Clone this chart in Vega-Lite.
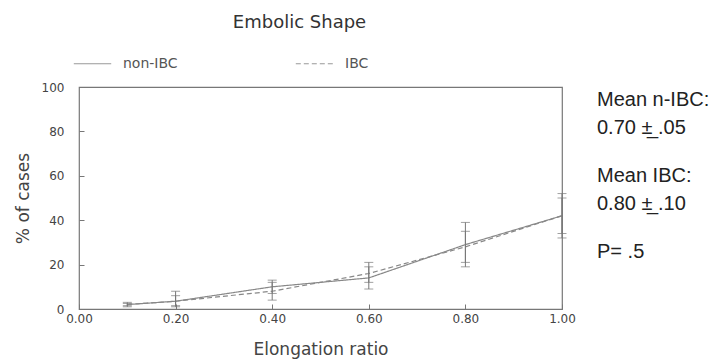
{
  "$schema": "https://vega.github.io/schema/vega-lite/v6.json",
  "width": 483,
  "height": 222,
  "autosize": {"type": "none"},
  "padding": {"left": 79, "top": 87, "right": 156, "bottom": 53},
  "background": "white",
  "title": {
    "text": "Embolic Shape",
    "anchor": "middle",
    "frame": "group",
    "dx": -21,
    "offset": 12,
    "font": "DejaVu Sans",
    "fontSize": 18,
    "fontWeight": "normal",
    "color": "#333"
  },
  "data": {
    "values": [
      {"ratio": 0.1, "group": "non-IBC", "pct": 2, "lo": 1, "hi": 3},
      {"ratio": 0.2, "group": "non-IBC", "pct": 3.5, "lo": 1, "hi": 8},
      {"ratio": 0.4, "group": "non-IBC", "pct": 10, "lo": 7, "hi": 13},
      {"ratio": 0.6, "group": "non-IBC", "pct": 14, "lo": 9, "hi": 21},
      {"ratio": 0.8, "group": "non-IBC", "pct": 29, "lo": 19, "hi": 39},
      {"ratio": 1.0, "group": "non-IBC", "pct": 42, "lo": 32, "hi": 52},
      {"ratio": 0.1, "group": "IBC", "pct": 2, "lo": 1.5, "hi": 2.5},
      {"ratio": 0.2, "group": "IBC", "pct": 3.5, "lo": 1.5, "hi": 6},
      {"ratio": 0.4, "group": "IBC", "pct": 8, "lo": 4, "hi": 12},
      {"ratio": 0.6, "group": "IBC", "pct": 16, "lo": 12, "hi": 19},
      {"ratio": 0.8, "group": "IBC", "pct": 28, "lo": 21, "hi": 35},
      {"ratio": 1.0, "group": "IBC", "pct": 42, "lo": 34, "hi": 50}
    ]
  },
  "layer": [
    {
      "mark": {"type": "line", "color": "#888", "strokeWidth": 1.2},
      "encoding": {
        "x": {"field": "ratio", "type": "quantitative"},
        "y": {"field": "pct", "type": "quantitative"},
        "strokeDash": {
          "field": "group",
          "type": "nominal",
          "scale": {"domain": ["non-IBC", "IBC"], "range": [[1, 0], [5, 3]]},
          "legend": {
            "title": null,
            "orient": "none",
            "legendX": -6,
            "legendY": -43,
            "direction": "horizontal",
            "symbolType": "stroke",
            "symbolStrokeColor": "#999",
            "symbolStrokeWidth": 1.2,
            "symbolSize": 1400,
            "labelFont": "DejaVu Sans",
            "labelFontSize": 14,
            "labelColor": "#555",
            "labelOffset": 11,
            "columnPadding": 115
          }
        }
      }
    },
    {
      "mark": {"type": "rule", "color": "#777", "strokeWidth": 1},
      "encoding": {
        "x": {"field": "ratio", "type": "quantitative"},
        "y": {"field": "lo", "type": "quantitative"},
        "y2": {"field": "hi"}
      }
    },
    {
      "transform": [{"fold": ["lo", "hi"], "as": ["end", "val"]}],
      "mark": {"type": "tick", "orient": "horizontal", "color": "#777", "size": 9, "thickness": 1},
      "encoding": {
        "x": {"field": "ratio", "type": "quantitative"},
        "y": {"field": "val", "type": "quantitative"}
      }
    },
    {
      "data": {"values": [{"note": ["Mean n-IBC:", "0.70  \u00b1\u0332 .05"]}]},
      "mark": {
        "type": "text", "x": {"expr": "width + 35"}, "y": 3,
        "align": "left", "baseline": "top", "font": "Liberation Sans",
        "fontSize": 20, "lineHeight": 27.5, "color": "#222"
      },
      "encoding": {"text": {"field": "note"}}
    },
    {
      "data": {"values": [{"note": ["Mean IBC:", "0.80  \u00b1\u0332 .10"]}]},
      "mark": {
        "type": "text", "x": {"expr": "width + 35"}, "y": 79,
        "align": "left", "baseline": "top", "font": "Liberation Sans",
        "fontSize": 20, "lineHeight": 27.5, "color": "#222"
      },
      "encoding": {"text": {"field": "note"}}
    },
    {
      "data": {"values": [{"note": "P= .5"}]},
      "mark": {
        "type": "text", "x": {"expr": "width + 35"}, "y": 155,
        "align": "left", "baseline": "top", "font": "Liberation Sans",
        "fontSize": 20, "color": "#222"
      },
      "encoding": {"text": {"field": "note"}}
    }
  ],
  "encoding": {
    "x": {
      "type": "quantitative",
      "scale": {"domain": [0, 1]},
      "axis": {
        "title": "Elongation ratio",
        "values": [0, 0.2, 0.4, 0.6, 0.8, 1.0],
        "format": ".2f"
      }
    },
    "y": {
      "type": "quantitative",
      "scale": {"domain": [0, 100]},
      "axis": {
        "title": "% of cases",
        "values": [0, 20, 40, 60, 80, 100]
      }
    }
  },
  "config": {
    "view": {"stroke": "#777", "strokeWidth": 1.2},
    "axis": {
      "domain": false,
      "grid": false,
      "ticks": true,
      "tickColor": "#777",
      "tickSize": -5,
      "labelFlush": false,
      "labelFont": "DejaVu Sans",
      "labelFontSize": 12,
      "labelColor": "#444",
      "titleFont": "DejaVu Sans",
      "titleFontSize": 17,
      "titleFontWeight": "normal",
      "titleColor": "#444"
    },
    "axisX": {"labelPadding": 9, "titlePadding": 17},
    "axisY": {"labelPadding": 20, "titlePadding": 9}
  }
}
